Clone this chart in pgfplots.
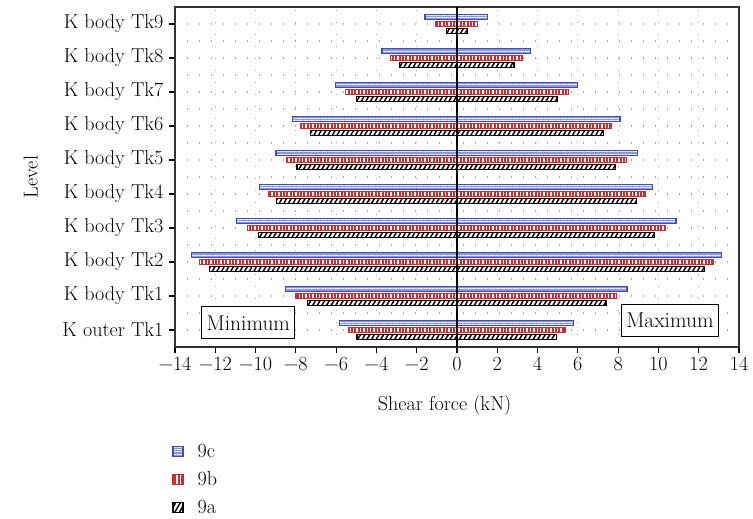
\documentclass[border=0pt]{standalone}
\usepackage{pgfplots}
\pgfplotsset{compat=1.18}
\usetikzlibrary{patterns.meta}
\definecolor{cblue}{RGB}{60,78,175}
\definecolor{lblue}{RGB}{140,152,218}
\definecolor{cred}{RGB}{205,45,45}
\newcommand{\fs}{\fontsize{20.2}{23}\selectfont}
\begin{document}
\begin{tikzpicture}
\begin{axis}[
  xbar, scale only axis, width=564bp, height=340bp,
  at={(0,0)}, anchor=south west,
  xmin=-14, xmax=14, ymin=-0.5, ymax=9.5,
  xtick={-14,-12,...,14},
  xticklabels={−14,−12,−10,−8,−6,−4,−2,0,2,4,6,8,10,12,14},
  ytick={0,...,9},
  yticklabels={K outer Tk1,K body Tk1,K body Tk2,K body Tk3,K body Tk4,K body Tk5,K body Tk6,K body Tk7,K body Tk8,K body Tk9},
  minor ytick={0.5,1.5,...,8.5},
  xtick pos=left, ytick pos=left,
  tick align=outside, major tick length=6bp, minor tick length=0bp,
  tick style={black, line width=1.2bp},
  xmajorgrids, ymajorgrids, yminorgrids,
  grid style={gray!70, line width=1.2bp, dash pattern=on 1.2bp off 10.8bp},
  axis line style={black!80, line width=1.2bp},
  tick label style={font=\fs},
  xticklabel style={yshift=-1bp},
  yticklabel style={xshift=-2bp},
  label style={font=\fs},
  xlabel={Shear force (kN)},
  ylabel={Level},
  xlabel style={at={(axis description cs:0.478,-0.171)}, anchor=center},
  ylabel style={at={(axis description cs:-0.256,0.5)}, anchor=center},
  bar width=5bp,
  legend style={draw=none, fill=none, at={(axis description cs:-0.005,-0.281)}, anchor=north west, font=\fs, row sep=11bp, inner sep=0pt,
     nodes={inner sep=1bp}},
  /tikz/every odd column/.append style={column sep=13bp},
  legend cell align=left,
  legend image code/.code={\draw[#1] (0bp,-5bp) rectangle (10bp,5bp);},
  C/.style={draw=cblue, line width=1.2bp, fill=lblue, postaction={pattern={Lines[angle=0,distance=2.4bp,line width=0.7bp]}, pattern color=white!80!lblue}, bar shift=7bp},
  B/.style={draw=cred, line width=1.2bp, fill=cred, postaction={pattern={Lines[angle=90,distance=3.4bp,line width=1.4bp]}, pattern color=white}, bar shift=0bp},
  A/.style={draw=black, line width=1.3bp, fill=white, postaction={pattern={Lines[angle=60,distance=4bp,line width=1.5bp]}, pattern color=black}, bar shift=-7bp},
]
% positive (maximum)
\addplot[C] coordinates {(5.78,0) (8.44,1) (13.14,2) (10.87,3) (9.71,4) (8.95,5) (8.09,6) (5.99,7) (3.66,8) (1.52,9)};
\addlegendentry{9c}
\addplot[B] coordinates {(5.36,0) (7.93,1) (12.75,2) (10.36,3) (9.33,4) (8.41,5) (7.68,6) (5.53,7) (3.24,8) (1.01,9)};
\addlegendentry{9b}
\addplot[A] coordinates {(4.95,0) (7.40,1) (12.28,2) (9.82,3) (8.90,4) (7.88,5) (7.27,6) (4.97,7) (2.83,8) (0.51,9)};
\addlegendentry{9a}
% negative (minimum)
\addplot[C, forget plot] coordinates {(-5.83,0) (-8.51,1) (-13.17,2) (-10.94,3) (-9.82,4) (-8.99,5) (-8.17,6) (-6.04,7) (-3.72,8) (-1.59,9)};
\addplot[B, forget plot] coordinates {(-5.40,0) (-7.99,1) (-12.79,2) (-10.40,3) (-9.37,4) (-8.48,5) (-7.74,6) (-5.55,7) (-3.29,8) (-1.06,9)};
\addplot[A, forget plot] coordinates {(-4.97,0) (-7.41,1) (-12.30,2) (-9.85,3) (-8.96,4) (-7.94,5) (-7.29,6) (-4.98,7) (-2.86,8) (-0.53,9)};
\draw[black, line width=1.6bp] (axis cs:0,-0.5) -- (axis cs:0,9.5);
\node[draw=black, line width=1bp, fill=white, font=\fontsize{21.5}{24}\selectfont, inner xsep=5bp, minimum height=32bp] at (axis cs:-10.36,0.21) {Minimum};
\node[draw=black, line width=1bp, fill=white, font=\fontsize{21.5}{24}\selectfont, inner xsep=5bp, minimum height=32bp] at (axis cs:10.57,0.285) {Maximum};
\end{axis}
\pgfresetboundingbox
\path (-175bp,-172bp) rectangle (578bp,347bp);
\end{tikzpicture}
\end{document}
